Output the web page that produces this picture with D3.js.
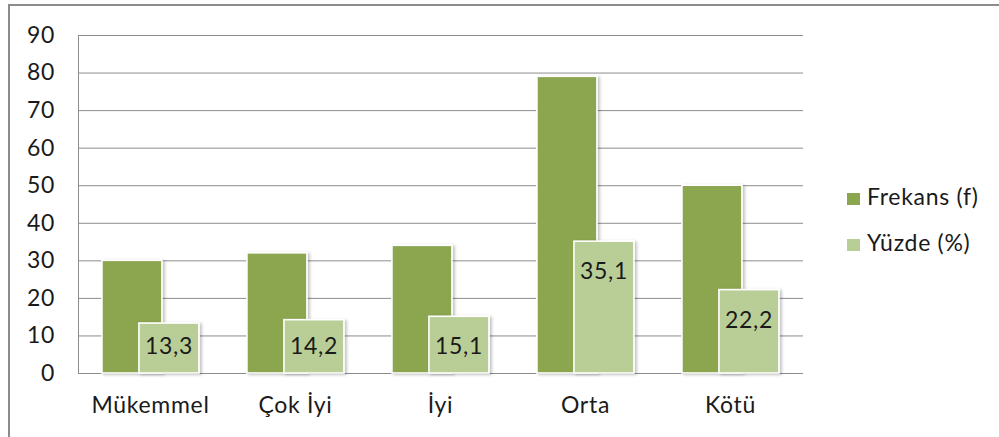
<!DOCTYPE html>
<html>
<head>
<meta charset="utf-8">
<script src="https://cdn.jsdelivr.net/npm/d3@7"></script>
<style>
  body { margin: 0; background: #fff; }
  svg { display: block; font-family: Lato, "Open Sans", sans-serif; }
  text { letter-spacing: 0.7px; }
</style>
</head>
<body>
<svg width="999" height="437"></svg>
<script>
var categories = ["Mükemmel", "Çok İyi", "İyi", "Orta", "Kötü"];
var frekans = [30, 32, 34, 79, 50];
var yuzde = [13.3, 14.2, 15.1, 35.1, 22.2];
var seriesNames = ["Frekans (f)", "Yüzde (%)"];
var yTicks = [0, 10, 20, 30, 40, 50, 60, 70, 80, 90];

var colors = ["#8ba64f", "#b9ce96"];
var margin = {left: 78, right: 196, top: 35, bottom: 64};
var width = 999, height = 437;
var fontSize = 23;

var svg = d3.select("svg");

// drop shadow like the office chart
var defs = svg.append("defs");
var f = defs.append("filter").attr("id", "shadow").attr("x", "-20%").attr("y", "-10%").attr("width", "150%").attr("height", "130%");
f.append("feDropShadow").attr("dx", 2).attr("dy", 1).attr("stdDeviation", 1.6).attr("flood-color", "#000").attr("flood-opacity", 0.25);

// outer frame
svg.append("rect")
  .attr("x", 9).attr("y", 5).attr("width", 1100).attr("height", 600)
  .attr("fill", "none").attr("stroke", "#8c8c8c").attr("stroke-width", 2);

var x0 = d3.scaleBand()
  .domain(categories)
  .range([margin.left, width - margin.right])
  .paddingInner(0.33).paddingOuter(0.165);

var barW = 60;
var x1 = d3.scalePoint().domain([0, 1]).range([0, 37]);

var y = d3.scaleLinear().domain([0, 90]).range([height - margin.bottom, margin.top]);

// gridlines
svg.append("g")
  .attr("transform", "translate(" + margin.left + ",0)")
  .call(d3.axisLeft(y).tickValues(yTicks).tickSize(-(width - margin.right - margin.left)).tickFormat(""))
  .call(function(g) {
    g.select(".domain").attr("stroke", "#8c8c8c");
    g.selectAll(".tick line").attr("stroke", "#8c8c8c").attr("stroke-width", 1);
  });

// y labels
svg.append("g")
  .attr("transform", "translate(" + margin.left + ",0)")
  .call(d3.axisLeft(y).tickValues(yTicks).tickSize(0).tickPadding(23))
  .call(function(g) {
    g.select(".domain").remove();
    g.selectAll("text").attr("font-size", fontSize).attr("fill", "#1a1a1a").attr("font-family", "Lato, sans-serif");
  });

var series = [frekans, yuzde];

series.forEach(function(vals, si) {
  svg.append("g").selectAll("rect")
    .data(vals)
    .join("rect")
    .attr("x", function(d, i) { return x0(categories[i]) + x1(si); })
    .attr("y", function(d) { return y(d); })
    .attr("width", barW)
    .attr("height", function(d) { return y(0) - y(d); })
    .attr("fill", colors[si])
    .attr("stroke", "#fff")
    .attr("stroke-width", 1.6)
    .attr("filter", "url(#shadow)");
});

// value labels on the percentage bars
svg.append("g").selectAll("text")
  .data(yuzde)
  .join("text")
  .attr("x", function(d, i) { return x0(categories[i]) + x1(1) + barW / 2; })
  .attr("y", function(d) { return Math.min(y(0) - 19, y(d) + 38); })
  .attr("text-anchor", "middle")
  .attr("font-size", fontSize)
  .attr("fill", "#1a1a1a")
  .text(function(d) { return String(d).replace(".", ","); });

// category labels
svg.append("g").selectAll("text")
  .data(categories)
  .join("text")
  .attr("x", function(d) { return x0(d) + x0.bandwidth() / 2; })
  .attr("y", 413)
  .attr("text-anchor", "middle")
  .attr("font-size", fontSize)
  .attr("fill", "#1a1a1a")
  .text(function(d) { return d; });

// legend
var legend = svg.append("g").selectAll("g")
  .data(seriesNames)
  .join("g")
  .attr("transform", function(d, i) { return "translate(847," + (193 + i * 46) + ")"; });
legend.append("rect").attr("width", 13).attr("height", 12).attr("fill", function(d, i) { return colors[i]; });
legend.append("text").attr("x", 20).attr("y", 12).attr("font-size", fontSize).attr("fill", "#1a1a1a").text(function(d) { return d; });
</script>
</body>
</html>
